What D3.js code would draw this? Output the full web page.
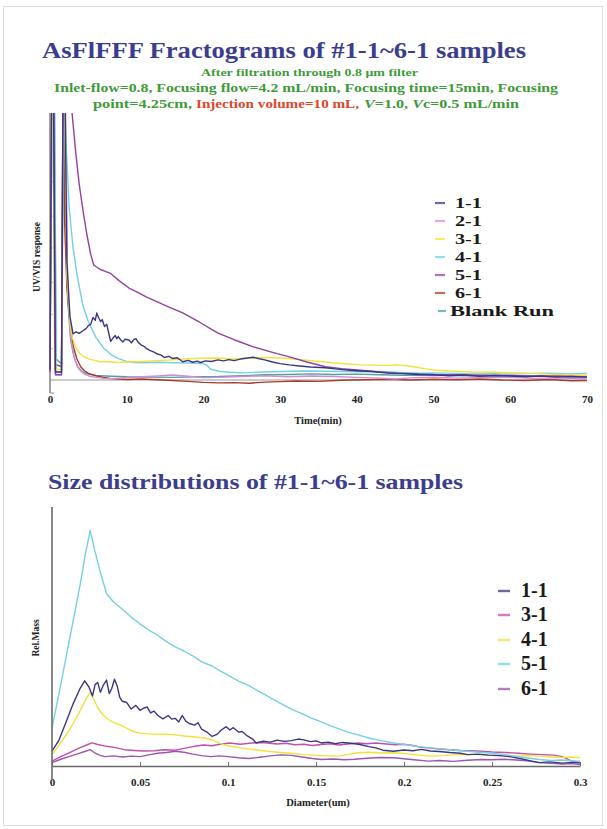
<!DOCTYPE html>
<html><head><meta charset="utf-8">
<script src="https://cdn.jsdelivr.net/npm/d3@7"></script>
<style>
html,body{margin:0;padding:0;background:#fff;}
svg text{font-family:"Liberation Serif","Times New Roman",Tinos,"Nimbus Roman",serif;font-weight:bold;}
</style></head>
<body>
<svg id="c" width="607" height="829"></svg>
<script>
// ---------- DATA ----------
const topTicks = [0,10,20,30,40,50,60,70];
const botTicks = [0,0.05,0.1,0.15,0.2,0.25,0.3];
const topNames = ["1-1","2-1","3-1","4-1","5-1","6-1","Blank Run"];
const topColors = ["#3a3686","#d68ad6","#f2e23a","#74d0e2","#93409f","#a73b2c","#4fa2a2"];
const botNames = ["1-1","3-1","4-1","5-1","6-1"];
const botColors = ["#3a3686","#c24fae","#f2e23a","#74d0e2","#9a55b0"];

// Fractograms: [time(min), UV/VIS response (relative)]
const s11 = [[0,4],[0.2,110],[0.45,110],[0.7,3],[1.5,3],[1.7,110],[1.95,110],[2.2,45],[2.6,24],[3.0,17.4],[3.4,18.2],[3.8,17.6],[4.3,18.6],[4.7,19.4],[5.0,20.5],[5.3,21],[5.6,23.6],[5.9,22.5],[6.1,25.3],[6.3,23.8],[6.6,22],[6.8,22.8],[7.1,20.2],[7.4,21],[7.6,18.4],[7.9,14.6],[8.2,15.8],[8.5,16.8],[8.7,15.6],[8.9,16.4],[9.2,15.2],[9.5,14.3],[9.8,15.4],[10.3,15.1],[10.6,14],[10.9,15.2],[11.2,15.6],[11.5,14.2],[11.9,13.2],[12.3,12.6],[12.6,11.8],[13.0,11.2],[13.5,10.6],[14.0,9.8],[14.5,9.4],[14.9,8.5],[15.5,8.9],[16,8.1],[16.6,8.4],[17.3,6.9],[18,7.4],[18.6,6.7],[19.2,7.1],[19.6,6.6],[20.3,7.2],[21,7.0],[21.9,7.6],[22.6,7.2],[23.3,7.7],[24,7.3],[24.8,7.9],[25.5,8.2],[26.5,8.6],[27.3,8.0],[28,7.6],[29,6.8],[30,6.2],[31.2,5.7],[32.5,5.3],[34,4.9],[35.9,4.6],[37.5,4.1],[39,3.7],[40.5,3.4],[42,3.2],[44,2.6],[46,2.4],[48,2.1],[50,2.0],[52,1.6],[54,1.9],[56,1.4],[58,1.7],[60,1.5],[62,1.2],[64,1.5],[66,1.1],[68,1.3],[70,1.1]];
const s21 = [[0,2],[0.25,110],[0.55,110],[0.75,2],[1.5,2],[1.75,110],[2.0,110],[2.3,35],[2.7,16],[3.2,8],[3.8,4],[4.5,2.2],[5.2,1.4],[6,1.0],[7,0.6],[8,0.5],[10,0.9],[12,1.2],[14,1.5],[16,1.9],[18,1.4],[20,0.9],[22,1.0],[25,1.3],[28,1.6],[31,1.2],[34,1.5],[37,1.3],[40,1.0],[43,0.7],[45,0.4],[47,0.8],[50,1.1],[53,0.7],[56,0.9],[60,1.0],[63,0.6],[66,0.8],[70,0.4]];
const s31 = [[0,6],[0.1,110],[0.4,110],[0.6,4],[1.5,4],[1.7,110],[1.9,110],[2.2,40],[2.6,22],[2.9,16],[3.4,12],[3.9,10],[4.5,8.6],[5.2,7.8],[5.7,7.5],[6.5,7.0],[7.2,6.9],[8,6.8],[9,6.6],[10,6.8],[11,6.9],[12,7.0],[14,7.3],[16,7.6],[18,8.0],[20,8.2],[21.9,8.3],[24,7.9],[26,8.2],[28,8.5],[30,8.3],[31.2,8.1],[33,7.6],[35.9,6.8],[38,6.2],[40.5,5.7],[42,5.6],[44,5.5],[45.2,5.7],[46.5,5.4],[47.6,4.9],[49,4.2],[50,3.8],[52,3.4],[55,3.0],[58,2.9],[62,2.6],[65,2.2],[67,2.0],[70,1.9]];
const s41 = [[0,5],[0.3,110],[0.6,110],[0.8,3],[1.5,3],[1.8,110],[2.0,95],[2.5,65],[3.0,50],[3.5,40],[4.3,28],[5.0,22],[6,16],[7,12],[8,9.5],[9,8],[10,7.0],[11,6.6],[12,6.5],[14,6.7],[16,6.5],[18,6.4],[20,6.2],[20.5,5.4],[21,4.0],[22,3.3],[23.5,2.9],[25,2.7],[27,2.9],[30,3.2],[33,3.4],[36,3.3],[40,3.1],[43,3.2],[45,2.9],[48,2.6],[50,2.7],[53,2.5],[55,2.3],[58,2.4],[60,2.2],[63,2.5],[65,2.6],[68,2.3],[70,2.6]];
const s51 = [[0,3],[0.2,110],[0.5,110],[0.7,2],[1.5,2],[1.7,110],[2.6,110],[2.9,100],[3.35,86],[3.8,74],[4.3,64],[4.8,55],[5.3,47.5],[5.7,43.4],[6.5,41.8],[7.2,41],[7.9,40.2],[9,37.5],[10.3,34.7],[11.5,33],[12.6,31.3],[14,29.5],[15.5,27.5],[17.3,25.3],[19.5,21.8],[21.9,17.7],[24,15.2],[26.5,12.5],[29,10.4],[31.2,8.7],[33.5,6.8],[35.9,5.0],[38,4.3],[40.5,3.7],[43,3.0],[45.2,2.6],[48,2.3],[50,2.1],[53,2.0],[56,1.8],[60,1.7],[63,1.4],[66,1.5],[70,1.2]];
const s61 = [[0,7],[0.15,110],[0.45,110],[0.65,6],[1.5,5],[1.7,110],[1.9,60],[2.2,35],[2.6,22],[3.0,13],[3.5,8],[4,5],[4.5,3.5],[5,2.5],[6,1.6],[7,1.0],[8,0.5],[10,0.2],[12,0.4],[14,0.1],[16,-0.2],[18,-0.5],[20,-0.9],[22,-1.1],[24,-1.0],[26,-1.2],[28,-0.8],[30,-0.6],[32,-0.4],[35,-0.5],[38,-0.1],[41,0.1],[44,0.3],[47,0.0],[50,0.3],[53,0.1],[56,0.4],[59,0.0],[62,-0.2],[65,0.2],[68,-0.3],[70,-0.2]];
const sBlank = [[0,12],[0.3,110],[0.55,110],[0.8,8],[1.5,6],[1.75,110],[1.95,70],[2.3,30],[2.7,15],[3.1,9],[3.6,5],[4.2,3.2],[5,2.2],[6,1.7],[8,1.4],[10,1.2],[13,1.1],[16,1.0],[19,1.2],[22,1.3],[25,1.6],[28,2.0],[31,2.1],[34,2.3],[37,2.1],[40,2.2],[43,2.0],[46,1.8],[50,1.9],[54,1.6],[58,1.5],[62,1.6],[66,1.3],[70,1.2]];

// Size distributions: [diameter(um), Rel.Mass]
const b11 = [[0,5.7],[0.004,10],[0.008,17],[0.012,24],[0.016,30],[0.0186,32.9],[0.021,30.5],[0.023,27],[0.0245,31.5],[0.026,32.2],[0.0275,28.5],[0.029,31],[0.031,33.2],[0.0325,28],[0.034,30],[0.0355,33.5],[0.037,31],[0.0385,26.5],[0.040,25],[0.0425,24.5],[0.045,22],[0.0476,23.4],[0.050,21.5],[0.052,22.3],[0.054,22.8],[0.056,20.5],[0.058,21.2],[0.060,19.6],[0.063,18.2],[0.066,19.5],[0.068,18.1],[0.070,18.4],[0.072,17],[0.074,19.5],[0.076,17.3],[0.078,16.4],[0.081,15.8],[0.083,16.7],[0.085,14.2],[0.088,13.1],[0.091,11.4],[0.094,12.3],[0.096,13.8],[0.099,15.2],[0.101,13.9],[0.103,14.8],[0.106,13.1],[0.108,13.3],[0.111,11.6],[0.114,10.4],[0.116,8.9],[0.12,9.6],[0.124,9.2],[0.128,10.0],[0.132,9.5],[0.136,9.8],[0.140,10.4],[0.143,10.1],[0.147,9.4],[0.150,9.7],[0.153,8.9],[0.157,9.2],[0.161,8.6],[0.165,9.1],[0.170,8.8],[0.175,8.3],[0.180,7.5],[0.184,7.0],[0.188,6.1],[0.194,5.7],[0.20,6.2],[0.205,5.9],[0.21,6.4],[0.215,5.8],[0.22,5.6],[0.226,5.2],[0.232,4.9],[0.236,4.4],[0.242,4.6],[0.248,4.2],[0.254,4.0],[0.26,3.6],[0.266,2.9],[0.272,2.0],[0.277,1.3],[0.283,1.6],[0.29,1.1],[0.295,1.4],[0.3,1.2]];
const b31 = [[0,1.9],[0.005,3.6],[0.010,5.2],[0.015,6.8],[0.020,8.2],[0.0228,8.9],[0.026,8.3],[0.031,7.6],[0.036,7.1],[0.041,6.3],[0.047,6.0],[0.052,5.8],[0.058,5.9],[0.064,6.3],[0.070,6.1],[0.075,6.8],[0.081,7.6],[0.086,8.1],[0.091,7.8],[0.096,8.5],[0.101,8.9],[0.107,8.4],[0.112,8.8],[0.118,9.1],[0.122,8.9],[0.128,8.5],[0.133,8.8],[0.138,8.2],[0.143,8.4],[0.148,7.9],[0.153,8.3],[0.158,8.6],[0.163,8.1],[0.168,8.5],[0.174,8.9],[0.179,8.6],[0.184,8.9],[0.19,8.5],[0.195,8.2],[0.2,8.4],[0.205,7.9],[0.21,7.2],[0.215,6.9],[0.22,6.5],[0.226,6.3],[0.232,6.0],[0.238,5.9],[0.244,5.7],[0.25,5.4],[0.258,5.2],[0.265,4.9],[0.272,4.6],[0.279,4.4],[0.285,4.2],[0.29,3.6],[0.295,2.0],[0.3,1.3]];
const b41 = [[0,4.4],[0.005,9],[0.010,14],[0.015,20],[0.019,25.5],[0.0217,28.5],[0.024,25.5],[0.026,22.5],[0.029,19.6],[0.033,17.5],[0.036,16.5],[0.039,15.8],[0.043,14.4],[0.046,13.4],[0.0497,12.7],[0.055,12.4],[0.06,12.2],[0.065,12.3],[0.070,12.0],[0.075,11.6],[0.080,11.3],[0.087,10.8],[0.092,9.8],[0.096,8.6],[0.101,7.6],[0.107,7.0],[0.113,6.5],[0.122,5.7],[0.13,5.2],[0.137,4.8],[0.143,4.4],[0.15,4.1],[0.157,3.9],[0.163,3.8],[0.168,4.4],[0.174,5.1],[0.18,5.3],[0.187,5.0],[0.194,5.1],[0.2,4.8],[0.207,4.3],[0.215,3.8],[0.222,4.0],[0.23,4.4],[0.236,4.5],[0.243,4.3],[0.25,4.1],[0.257,4.2],[0.264,3.9],[0.27,4.0],[0.277,3.8],[0.284,3.5],[0.29,3.3],[0.295,3.5],[0.3,3.2]];
const b51 = [[0,14.6],[0.004,28],[0.008,42],[0.012,56],[0.016,70],[0.019,82],[0.0217,91],[0.024,84],[0.027,76],[0.031,66.5],[0.035,63.3],[0.04,60.5],[0.045,57.5],[0.0497,55],[0.055,52.5],[0.06,50.5],[0.065,48],[0.070,46],[0.075,44.4],[0.08,42.5],[0.085,40.2],[0.091,38.6],[0.096,36.5],[0.101,34.7],[0.106,32.8],[0.112,31],[0.117,29],[0.122,27.2],[0.127,25.2],[0.132,23.4],[0.137,21.7],[0.142,20.2],[0.147,18.6],[0.153,17],[0.158,15.6],[0.163,14.3],[0.168,13.1],[0.174,12],[0.18,10.8],[0.187,9.8],[0.194,8.9],[0.2,8.3],[0.207,7.6],[0.215,7],[0.222,6.6],[0.229,6.1],[0.236,5.7],[0.243,5.3],[0.25,4.9],[0.257,4.4],[0.263,3.8],[0.27,3.1],[0.277,2.5],[0.283,2.1],[0.29,2.3],[0.295,2.0],[0.3,1.9]];
const b61 = [[0,1.3],[0.005,2.6],[0.01,3.7],[0.015,4.8],[0.019,5.7],[0.0217,6.3],[0.024,5.2],[0.027,4.2],[0.03,3.6],[0.035,3.9],[0.04,3.5],[0.045,3.8],[0.05,3.6],[0.055,4.3],[0.06,4.9],[0.065,5.2],[0.07,5.7],[0.075,5.3],[0.08,4.6],[0.085,4.0],[0.09,3.6],[0.095,3.9],[0.1,3.6],[0.106,3.2],[0.112,2.9],[0.118,3.4],[0.124,3.9],[0.13,4.3],[0.136,4.1],[0.142,3.5],[0.148,2.9],[0.153,2.5],[0.16,2.7],[0.166,2.4],[0.172,2.6],[0.179,3.0],[0.186,3.3],[0.194,3.2],[0.2,2.8],[0.207,2.3],[0.214,1.9],[0.22,2.1],[0.228,1.8],[0.236,2.2],[0.244,2.5],[0.25,2.4],[0.257,2.6],[0.264,2.3],[0.27,2.0],[0.277,1.3],[0.284,1.0],[0.29,0.8],[0.295,0.9],[0.3,0.6]];

const topSeries = [s11,s21,s31,s41,s51,s61,sBlank];
const botSeries = [b11,b31,b41,b51,b61];

// ---------- DRAW ----------
const FONT = "'Liberation Serif','Times New Roman',Tinos,'Nimbus Roman',serif";
const svg = d3.select("#c");
const TITLE = "#3b3d8f", GREEN = "#3f9a3a", RED = "#e2452c";

svg.append("rect").attr("x",3.5).attr("y",6.5).attr("width",599).attr("height",819)
  .attr("fill","none").attr("stroke","#dcdcdc");

svg.append("text").attr("x",42).attr("y",58).attr("font-size",24).attr("fill",TITLE)
  .attr("textLength",484).attr("lengthAdjust","spacingAndGlyphs")
  .text("AsFlFFF Fractograms of #1-1~6-1 samples");
svg.append("text").attr("x",201).attr("y",76).attr("font-size",10).attr("fill",GREEN)
  .attr("textLength",217).attr("lengthAdjust","spacingAndGlyphs")
  .text("After filtration through 0.8 μm filter");
svg.append("text").attr("x",54).attr("y",92).attr("font-size",12.5).attr("fill",GREEN)
  .attr("textLength",504).attr("lengthAdjust","spacingAndGlyphs")
  .text("Inlet-flow=0.8, Focusing flow=4.2 mL/min, Focusing time=15min, Focusing");
svg.append("text").attr("x",93).attr("y",108).attr("font-size",12.5).attr("fill",GREEN)
  .attr("textLength",99).attr("lengthAdjust","spacingAndGlyphs").text("point=4.25cm,");
svg.append("text").attr("x",196).attr("y",108).attr("font-size",12.5).attr("fill",RED)
  .attr("textLength",163).attr("lengthAdjust","spacingAndGlyphs").text("Injection volume=10 mL,");
const t3 = svg.append("text").attr("x",364).attr("y",108).attr("font-size",12.5).attr("fill",GREEN)
  .attr("textLength",155).attr("lengthAdjust","spacingAndGlyphs");
t3.append("tspan").attr("font-style","italic").text("V");
t3.append("tspan").text("=1.0, ");
t3.append("tspan").attr("font-style","italic").text("V");
t3.append("tspan").text("c=0.5 mL/min");

// ----- top chart -----
const xT = d3.scaleLinear().domain([0,70]).range([50,587]);
const yT = d3.scaleLinear().domain([0,100]).range([380,115]);
const defs = svg.append("defs");
defs.append("clipPath").attr("id","clipT").append("rect").attr("x",48).attr("y",113).attr("width",545).attr("height",280);
defs.append("clipPath").attr("id","clipB").append("rect").attr("x",50).attr("y",500).attr("width",540).attr("height",275);

svg.append("line").attr("x1",xT(0)).attr("x2",xT(70)).attr("y1",yT(0)).attr("y2",yT(0))
  .attr("stroke","#9a9a9a").attr("stroke-width",1.2);
const yAxT = svg.append("g").attr("transform","translate(50,0)")
  .call(d3.axisRight(yT).tickValues([12,25,37,50,62,75,87]).tickSize(3).tickFormat(""));
yAxT.select(".domain").remove();
yAxT.selectAll(".tick line").attr("stroke","#bbb");
svg.append("line").attr("x1",50).attr("x2",50).attr("y1",113).attr("y2",393)
  .attr("stroke","#8a8a8a").attr("stroke-width",1.6);
svg.append("line").attr("x1",50).attr("x2",54).attr("y1",393).attr("y2",393)
  .attr("stroke","#8a8a8a").attr("stroke-width",1);

const lineT = d3.line().x(d=>xT(d[0])).y(d=>yT(d[1]));
const gT = svg.append("g").attr("clip-path","url(#clipT)");
[6,5,1,3,2,4,0].forEach(i=>{
  gT.append("path").attr("d",lineT(topSeries[i])).attr("fill","none")
    .attr("stroke",topColors[i]).attr("stroke-width",1.4).attr("stroke-linejoin","round");
});

const xAxT = svg.append("g").attr("transform","translate(0,391)")
  .call(d3.axisBottom(xT).tickValues(topTicks).tickSize(0).tickPadding(4));
xAxT.attr("font-family",FONT);
xAxT.select(".domain").remove();
xAxT.selectAll("text").attr("font-size",11).attr("fill","#222").style("font-family",FONT).style("font-weight","bold");

svg.append("text").attr("x",318).attr("y",424).attr("text-anchor","middle").attr("font-size",10.5).attr("fill","#222").text("Time(min)");
svg.append("text").attr("transform","translate(40,257) rotate(-90)").attr("text-anchor","middle")
  .attr("font-size",9.5).attr("fill","#222").text("UV/VIS response");

// top legend
const legT = svg.append("g");
const legTy = [208,226,244,262,280,298,316];
topNames.forEach((n,i)=>{
  const isBlank = n==="Blank Run";
  legT.append("line").attr("x1",isBlank?438:435).attr("x2",isBlank?446:445).attr("y1",legTy[i]-5).attr("y2",legTy[i]-5)
    .attr("stroke",topColors[i]).attr("stroke-width",2.2).attr("opacity",0.75);
  legT.append("text").attr("x",isBlank?450:455).attr("y",legTy[i]).attr("font-size",15.5).attr("fill","#1a1a1a")
    .attr("textLength",isBlank?104:27).attr("lengthAdjust","spacingAndGlyphs").text(n);
});

// ----- bottom chart -----
svg.append("text").attr("x",48).attr("y",489).attr("font-size",21).attr("fill",TITLE)
  .attr("textLength",415).attr("lengthAdjust","spacingAndGlyphs")
  .text("Size distributions of #1-1~6-1 samples");

const xB = d3.scaleLinear().domain([0,0.3]).range([52,580]);
const yB = d3.scaleLinear().domain([0,100]).range([766,507]);

const gB = svg.append("g").attr("clip-path","url(#clipB)");
const lineB = d3.line().x(d=>xB(d[0])).y(d=>yB(d[1]));
[4,1,2,0,3].forEach(i=>{
  gB.append("path").attr("d",lineB(botSeries[i])).attr("fill","none")
    .attr("stroke",botColors[i]).attr("stroke-width",1.4).attr("stroke-linejoin","round");
});

const xAxB = svg.append("g").attr("transform","translate(0,766)")
  .call(d3.axisBottom(xB).tickValues(botTicks).tickSizeInner(-4).tickSizeOuter(0).tickPadding(12)
    .tickFormat(d=> d===0 ? "0" : String(+d.toFixed(2))));
xAxB.attr("font-family",FONT);
xAxB.select(".domain").attr("stroke","#6a6a6a").attr("stroke-width",1.5);
xAxB.selectAll(".tick line").attr("stroke","#6a6a6a");
xAxB.selectAll("text").attr("font-size",11).attr("fill","#222").style("font-family",FONT).style("font-weight","bold");
svg.append("line").attr("x1",52).attr("x2",52).attr("y1",507).attr("y2",780)
  .attr("stroke","#6a6a6a").attr("stroke-width",1.6);

svg.append("text").attr("x",318).attr("y",806).attr("text-anchor","middle").attr("font-size",10.5).attr("fill","#222").text("Diameter(um)");
svg.append("text").attr("transform","translate(39,638) rotate(-90)").attr("text-anchor","middle")
  .attr("font-size",9.5).attr("fill","#222").text("Rel.Mass");

const legB = svg.append("g");
const legBy = [597,621,646,670,695];
botNames.forEach((n,i)=>{
  legB.append("line").attr("x1",498).attr("x2",510).attr("y1",legBy[i]-6).attr("y2",legBy[i]-6)
    .attr("stroke",botColors[i]).attr("stroke-width",2.4).attr("opacity",0.75);
  legB.append("text").attr("x",521).attr("y",legBy[i]).attr("font-size",20).attr("fill","#1a1a1a").text(n);
});
</script>
</body></html>
